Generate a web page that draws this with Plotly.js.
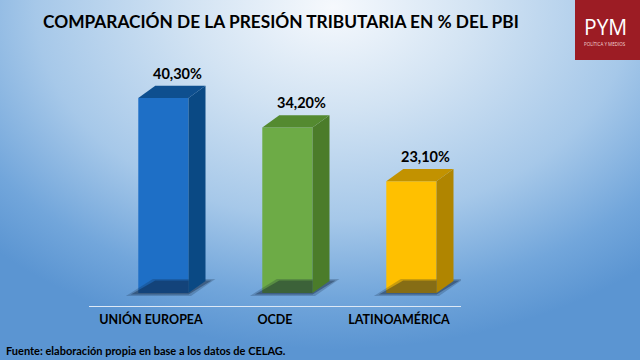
<!DOCTYPE html>
<html>
<head>
<meta charset="utf-8">
<script src="https://cdn.plot.ly/plotly-3.0.1.min.js"></script>
<style>
  html, body { margin:0; padding:0; }
  body {
    width:640px; height:360px; overflow:hidden;
    background: radial-gradient(ellipse 75% 95% at 52% 2%, #f6f9fd 0%, #d2e3f3 30%, #a6c8e9 62%, #72a6db 85%, #5b95d2 100%);
  }
  #chart { width:640px; height:360px; }
</style>
</head>
<body>
<div id="chart"></div>
<script>
// ---- data ----
const categories = ['UNIÓN EUROPEA', 'OCDE', 'LATINOAMÉRICA'];
const values = [40.3, 34.2, 23.1];
const valueLabels = ['40,30%', '34,20%', '23,10%'];
const titleText = 'COMPARACIÓN DE LA PRESIÓN TRIBUTARIA EN % DEL PBI';
const sourceText = 'Fuente: elaboración propia en base a los datos de CELAG.';

// ---- styles ----
const frontColors = ['#1e6fc6', '#6dab46', '#ffc000'];
const topColors   = ['#0e4f8f', '#548a30', '#c29200'];
const sideColors  = ['#0a4984', '#4b7c2a', '#b08500'];

const off = 0.1;     // bar offset from category centre (perspective)
const w = 0.405;     // bar width (category units)
const dx = 0.137;    // depth in x (category units)
const dy = 2.5;      // depth in y (value units)

const traces = [];
const xs = categories.map((c, i) => i + off);

// soft shadows (two layers)
values.forEach((v, i) => {
  const xl = xs[i] - w / 2, xr = xs[i] + w / 2;
  traces.push({
    type: 'scatter', mode: 'lines', fill: 'toself',
    x: [xl - 0.1, xr + 0.02, xr + dx + 0.08, xl + dx - 0.02, xl - 0.1],
    y: [-0.6, -0.6, 2.9, 2.9, -0.6],
    line: { width: 0 }, fillcolor: 'rgba(15,30,55,0.22)', hoverinfo: 'skip'
  });
  traces.push({
    type: 'scatter', mode: 'lines', fill: 'toself',
    x: [xl - 0.06, xr, xr + dx + 0.05, xl + dx, xl - 0.06],
    y: [-0.3, -0.3, 2.6, 2.6, -0.3],
    line: { width: 0 }, fillcolor: 'rgba(10,20,40,0.35)', hoverinfo: 'skip'
  });
});

// front faces
traces.push({
  type: 'bar', x: xs, y: values, width: w,
  marker: { color: frontColors, line: { width: 0 } },
  hoverinfo: 'skip'
});

// side and top faces
values.forEach((v, i) => {
  const xl = xs[i] - w / 2, xr = xs[i] + w / 2;
  traces.push({
    type: 'scatter', mode: 'lines', fill: 'toself',
    x: [xr, xr + dx, xr + dx, xr, xr],
    y: [0, dy, v + dy, v, 0],
    line: { width: 0 }, fillcolor: sideColors[i], hoverinfo: 'skip'
  });
  traces.push({
    type: 'scatter', mode: 'lines', fill: 'toself',
    x: [xl, xr, xr + dx, xl + dx, xl],
    y: [v, v, v + dy, v + dy, v],
    line: { width: 0 }, fillcolor: topColors[i], hoverinfo: 'skip'
  });
});

// plot area in pixels: x 89..461, y 51..306
const px = p => (p - 89) / 372;
const py = p => (306 - p) / 255;

const annotations = values.map((v, i) => ({
  x: xs[i] + 0.11, y: v + dy, xref: 'x', yref: 'y',
  text: valueLabels[i], showarrow: false, yanchor: 'bottom', yshift: 2,
  font: { family: 'Lato, sans-serif', size: 14.5, color: '#000', weight: 'bold' }
}));

annotations.push({
  x: px(41), y: py(22), xref: 'paper', yref: 'paper', xanchor: 'left', yanchor: 'middle',
  text: titleText, showarrow: false,
  font: { family: 'Lato, sans-serif', size: 17.3, color: '#000', weight: 'bold' }
});
annotations.push({
  x: px(4), y: py(350), xref: 'paper', yref: 'paper', xanchor: 'left', yanchor: 'middle',
  text: sourceText, showarrow: false,
  font: { family: 'Lato, sans-serif', size: 11, color: '#000', weight: 'bold' }
});
annotations.push({
  x: px(605), y: py(27), xref: 'paper', yref: 'paper', xanchor: 'center', yanchor: 'middle',
  text: 'PYM', showarrow: false,
  font: { family: 'Open Sans, sans-serif', size: 21, color: '#ffffff' }
});
annotations.push({
  x: px(605), y: py(44), xref: 'paper', yref: 'paper', xanchor: 'center', yanchor: 'middle',
  text: 'POLÍTICA Y MEDIOS', showarrow: false,
  font: { family: 'Open Sans, sans-serif', size: 4.5, color: '#f3d6d8' }
});

const layout = {
  width: 640, height: 360,
  margin: { l: 89, r: 179, t: 51, b: 54, pad: 0 },
  paper_bgcolor: 'rgba(0,0,0,0)', plot_bgcolor: 'rgba(0,0,0,0)',
  showlegend: false,
  xaxis: {
    range: [-0.5, 2.5], tickmode: 'array', tickvals: categories.map((c, i) => i), ticktext: categories,
    showline: true, linecolor: '#dde9f6', linewidth: 1, showgrid: false, zeroline: false, ticks: '',
    tickfont: { family: 'Lato, sans-serif', size: 12.5, color: '#000', weight: 'bold' },
    ticklabelstandoff: 2,
    fixedrange: true
  },
  yaxis: { range: [-2.69, 50], visible: false, fixedrange: true },
  shapes: [{
    type: 'rect', xref: 'paper', yref: 'paper',
    x0: px(575), x1: px(641), y0: py(60), y1: py(-1),
    fillcolor: '#9c1c24', line: { width: 0 }, layer: 'below'
  }],
  annotations: annotations
};

Plotly.newPlot('chart', traces, layout, { staticPlot: true, displayModeBar: false });
</script>
</body>
</html>
